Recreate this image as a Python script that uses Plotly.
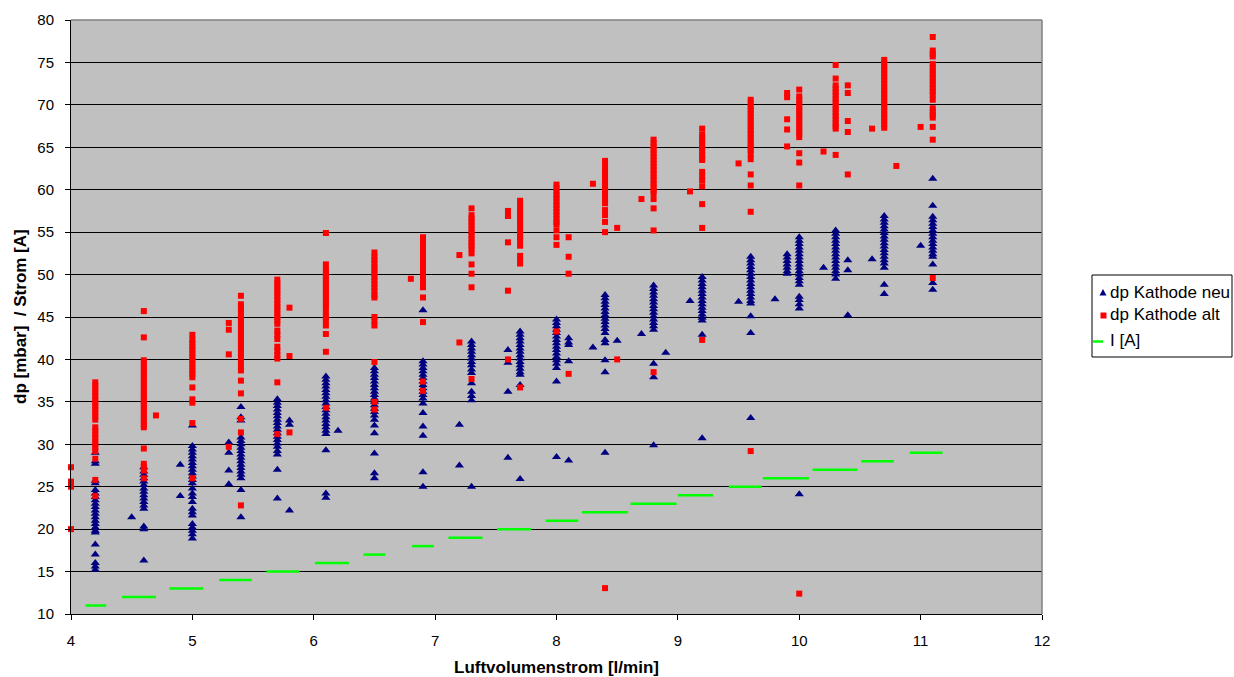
import plotly.graph_objects as go

# ---------------- data ----------------
NEU_X = [4.2, 4.5, 4.6, 4.9, 5.0, 5.3, 5.4, 5.7, 5.8, 6.1, 6.2, 6.5, 6.9, 7.2, 7.3,
         7.6, 7.7, 8.0, 8.1, 8.3, 8.4, 8.5, 8.7, 8.8, 8.9, 9.1, 9.2, 9.5, 9.6, 9.8,
         9.9, 10.0, 10.2, 10.3, 10.4, 10.6, 10.7, 11.0, 11.1]
NEU_Y = [
    [29.0, 28.0, 27.7, 25.7, 25.4, 24.6, 24.2, 23.8, 23.4, 23.0, 22.6, 22.2, 21.8, 21.4, 21.0,
     20.6, 20.2, 19.8, 19.6, 18.2, 17.0, 16.0, 15.6, 15.2],
    [21.4],
    [27.3, 26.8, 26.4, 26.0, 25.6, 25.2, 24.8, 24.4, 24.0, 23.6, 23.2, 22.8, 22.4, 20.3, 20.0, 16.3],
    [27.6, 23.9],
    [32.2, 29.8, 29.4, 29.0, 28.6, 28.2, 27.8, 27.4, 27.0, 26.6, 26.2, 25.8, 25.4, 24.8, 24.2,
     23.8, 23.2, 22.4, 22.0, 21.6, 20.6, 20.2, 19.8, 19.4, 18.9],
    [30.2, 29.0, 26.9, 25.3],
    [34.4, 33.2, 32.8, 30.8, 30.4, 30.0, 29.6, 29.2, 28.8, 28.4, 28.0, 27.6, 27.2, 26.8, 26.4,
     26.0, 24.6, 21.4],
    [35.3, 34.9, 34.5, 34.1, 33.7, 33.3, 32.9, 32.5, 32.1, 31.7, 31.3, 30.9, 30.5, 30.1, 29.7,
     29.2, 28.8, 27.0, 23.6],
    [32.8, 32.3, 22.2],
    [38.0, 37.6, 37.2, 36.8, 36.4, 36.0, 35.6, 35.2, 34.8, 34.4, 34.0, 33.6, 33.2, 32.8, 32.4,
     32.0, 31.6, 31.2, 29.3, 24.2, 23.7],
    [31.6],
    [39.0, 38.6, 38.2, 37.8, 37.4, 37.0, 36.6, 36.2, 35.8, 35.4, 35.0, 34.6, 34.2, 33.8, 33.4,
     32.9, 32.2, 31.3, 28.9, 26.6, 26.0],
    [45.8, 39.8, 39.4, 39.0, 38.6, 38.2, 37.8, 37.4, 37.0, 36.6, 36.2, 35.8, 35.4, 34.8, 33.7,
     32.1, 31.0, 26.7, 25.0],
    [32.3, 27.5],
    [42.1, 41.7, 41.3, 40.9, 40.5, 40.1, 39.7, 39.3, 38.8, 38.4, 37.2, 36.2, 35.7, 35.2, 25.0],
    [41.1, 39.6, 36.2, 28.4],
    [43.3, 42.9, 42.5, 42.1, 41.7, 41.3, 40.9, 40.5, 40.1, 39.7, 39.3, 38.9, 38.5, 38.2, 37.0, 25.9],
    [44.7, 44.3, 43.9, 43.5, 43.1, 42.7, 42.3, 41.9, 41.5, 41.1, 40.7, 40.3, 39.9, 39.5, 39.0,
     37.4, 28.5],
    [42.5, 42.0, 41.7, 39.8, 28.1],
    [41.4],
    [47.6, 47.2, 46.8, 46.4, 46.0, 45.6, 45.2, 44.8, 44.4, 44.0, 43.6, 43.1, 42.3, 41.9, 39.9,
     38.5, 29.0],
    [42.2],
    [43.0],
    [48.7, 48.3, 47.9, 47.5, 47.1, 46.7, 46.3, 45.9, 45.5, 45.1, 44.7, 44.3, 43.9, 43.5, 39.5,
     37.9, 29.9],
    [40.8],
    [46.9],
    [49.7, 49.3, 48.9, 48.5, 48.1, 47.7, 47.3, 46.9, 46.5, 46.1, 45.7, 45.3, 44.9, 44.6, 42.9, 30.7],
    [46.8],
    [52.1, 51.7, 51.3, 50.9, 50.5, 50.1, 49.7, 49.3, 48.9, 48.5, 48.1, 47.7, 47.3, 46.9, 46.6,
     45.1, 43.1, 33.1],
    [47.1],
    [52.4, 52.0, 51.6, 51.2, 50.8, 50.4, 50.1],
    [54.4, 54.0, 53.6, 53.2, 52.8, 52.4, 52.0, 51.6, 51.2, 50.8, 50.4, 50.0, 49.6, 49.2, 48.8,
     47.4, 47.0, 46.5, 46.0, 24.1],
    [50.8],
    [55.2, 54.8, 54.4, 54.0, 53.6, 53.2, 52.8, 52.4, 52.0, 51.6, 51.2, 50.8, 50.4, 50.0, 49.5],
    [51.7, 50.5, 45.2],
    [51.8],
    [56.9, 56.5, 56.1, 55.7, 55.3, 54.9, 54.5, 54.1, 53.7, 53.3, 52.9, 52.5, 52.1, 51.7, 51.3,
     50.8, 48.8, 47.7],
    [53.4],
    [61.3, 58.1, 56.8, 56.4, 56.0, 55.6, 55.2, 54.8, 54.4, 54.0, 53.6, 53.2, 52.8, 52.4, 52.1,
     51.2, 49.0, 48.2],
]

ALT_X = [4.0, 4.2, 4.6, 4.7, 5.0, 5.3, 5.4, 5.7, 5.8, 6.1, 6.5, 6.8, 6.9, 7.2, 7.3, 7.6,
         7.7, 8.0, 8.1, 8.3, 8.4, 8.5, 8.7, 8.8, 9.1, 9.2, 9.5, 9.6, 9.9, 10.0, 10.2, 10.3,
         10.4, 10.6, 10.7, 10.8, 11.0, 11.1]
ALT_Y = [
    [27.3, 25.6, 25.2, 25.0, 20.0],
    [37.3, 36.9, 36.5, 36.1, 35.7, 35.3, 34.9, 34.5, 34.1, 33.7, 33.3, 32.9, 32.0, 31.6, 31.2,
     30.8, 30.4, 30.0, 29.6, 29.2, 28.3, 25.8, 23.9],
    [45.7, 42.6, 39.9, 39.5, 39.1, 38.7, 38.3, 37.9, 37.5, 37.1, 36.7, 36.3, 35.9, 35.5, 35.1,
     34.7, 34.3, 33.9, 33.5, 33.1, 32.7, 32.3, 32.0, 29.5, 27.7, 27.3, 26.9, 26.0],
    [33.4],
    [42.9, 42.3, 41.9, 41.5, 41.1, 40.7, 40.3, 39.9, 39.5, 39.1, 38.7, 38.3, 37.9, 36.7, 35.3,
     34.9, 32.5, 26.0],
    [44.3, 43.5, 40.6, 29.7],
    [47.5, 46.5, 46.1, 45.8, 45.2, 44.8, 44.4, 44.0, 43.6, 43.2, 42.8, 42.4, 42.0, 41.6, 41.2,
     40.8, 40.3, 39.7, 39.2, 38.7, 37.5, 36.0, 33.0, 31.4, 22.8],
    [49.4, 49.0, 48.6, 48.2, 47.8, 47.4, 47.0, 46.6, 46.2, 45.8, 45.4, 45.0, 44.6, 44.2, 43.4,
     42.9, 42.4, 41.5, 41.0, 40.5, 40.1, 37.3, 31.2],
    [46.1, 40.4, 31.4],
    [54.9, 51.2, 50.6, 50.2, 49.8, 49.4, 49.0, 48.6, 48.2, 47.8, 47.4, 47.0, 46.6, 46.2, 45.6,
     45.0, 44.5, 44.0, 43.0, 40.9, 34.3],
    [52.6, 52.1, 51.7, 51.3, 50.9, 50.5, 50.1, 49.7, 49.3, 48.9, 48.5, 48.1, 47.6, 47.3, 45.0,
     44.5, 44.0, 39.7, 35.0, 34.1],
    [49.5],
    [54.4, 54.0, 53.6, 53.2, 52.8, 52.4, 52.0, 51.6, 51.2, 50.8, 50.4, 50.0, 49.6, 49.2, 48.8,
     48.5, 47.3, 44.4, 37.4, 36.3],
    [52.3, 42.0],
    [57.8, 57.0, 56.6, 56.2, 55.8, 55.4, 55.0, 54.6, 54.2, 53.8, 53.4, 53.0, 52.5, 51.2, 50.1,
     48.5, 37.7],
    [57.5, 56.9, 53.8, 48.1, 40.0],
    [58.7, 58.3, 57.9, 57.5, 57.1, 56.7, 56.3, 55.9, 55.5, 55.1, 54.7, 54.3, 54.0, 53.4, 52.2,
     51.8, 51.3, 36.7],
    [60.6, 60.2, 59.8, 59.4, 59.0, 58.6, 58.2, 57.8, 57.4, 57.0, 56.6, 56.2, 55.9, 55.2, 54.4,
     53.5, 43.3],
    [54.4, 52.1, 50.1, 38.3],
    [60.7],
    [63.4, 62.8, 62.4, 62.0, 61.6, 61.2, 60.8, 60.4, 60.0, 59.6, 59.2, 58.8, 58.4, 57.6, 57.0,
     56.2, 55.0, 13.05],
    [55.5, 40.0],
    [58.9],
    [65.9, 65.5, 65.1, 64.7, 64.3, 63.9, 63.5, 63.1, 62.7, 62.3, 61.9, 61.5, 61.1, 60.7, 60.3,
     59.9, 59.6, 58.9, 57.8, 55.2, 38.5],
    [59.8],
    [67.2, 66.5, 66.1, 65.7, 65.3, 64.9, 64.5, 64.1, 63.7, 63.5, 62.1, 61.6, 61.1, 60.4, 58.3,
     55.5, 42.3],
    [63.1],
    [70.6, 70.2, 69.8, 69.4, 69.0, 68.6, 68.2, 67.8, 67.4, 67.0, 66.6, 66.2, 65.8, 65.4, 65.0,
     64.7, 64.2, 63.6, 61.8, 60.5, 57.4, 29.2],
    [71.4, 70.9, 68.3, 67.1, 65.1],
    [71.8, 71.0, 70.6, 70.2, 69.8, 69.4, 69.0, 68.6, 68.2, 67.8, 67.4, 67.0, 66.6, 66.2, 64.3,
     63.2, 60.5, 12.4],
    [64.5],
    [74.7, 73.1, 72.3, 71.9, 71.5, 71.1, 70.7, 70.3, 69.9, 69.5, 69.1, 68.7, 68.3, 67.9, 67.5,
     67.2, 64.1],
    [72.3, 71.4, 68.1, 66.8, 61.8],
    [67.2],
    [75.3, 74.9, 74.5, 74.1, 73.7, 73.3, 72.9, 72.5, 72.1, 71.7, 71.3, 70.9, 70.5, 70.1, 69.7,
     69.3, 68.9, 68.5, 68.1, 67.7, 67.3],
    [62.8],
    [67.4],
    [78.0, 76.4, 76.0, 75.7, 74.8, 74.4, 74.0, 73.6, 73.2, 72.8, 72.4, 72.0, 71.6, 71.2, 70.6,
     69.6, 69.2, 68.8, 68.5, 67.4, 65.9, 49.6],
]

I_LEVEL = [11, 12, 13, 14, 15, 16, 17, 18, 19, 20, 21, 22, 23, 24, 25, 26, 27, 28, 29]
I_X_START = [4.12, 4.42, 4.81, 5.22, 5.61, 6.01, 6.41, 6.81, 7.11, 7.51, 7.91, 8.21, 8.61,
             9.00, 9.42, 9.70, 10.11, 10.51, 10.91]
I_X_END = [4.29, 4.70, 5.09, 5.49, 5.88, 6.29, 6.59, 6.99, 7.39, 7.79, 8.18, 8.59, 8.99,
           9.29, 9.69, 10.08, 10.48, 10.78, 11.18]

X_TICKS = [4, 5, 6, 7, 8, 9, 10, 11, 12]
Y_TICKS = [10, 15, 20, 25, 30, 35, 40, 45, 50, 55, 60, 65, 70, 75, 80]

SERIES_NAMES = ["dp Kathode neu", "dp Kathode alt", "I [A]"]
X_TITLE = "Luftvolumenstrom [l/min]"
Y_TITLE = "dp [mbar] &nbsp;/ Strom [A]"


def flatten(xs, ys):
    fx, fy = [], []
    for x, col in zip(xs, ys):
        for v in col:
            fx.append(x)
            fy.append(v)
    return fx, fy


neu_x, neu_y = flatten(NEU_X, NEU_Y)
alt_x, alt_y = flatten(ALT_X, ALT_Y)

ix, iy = [], []
for x0, x1, lv in zip(I_X_START, I_X_END, I_LEVEL):
    ix += [x0, x1, None]
    iy += [lv, lv, None]

FONT = "Arial, 'Liberation Sans', sans-serif"
BLUE, RED, GREEN = "#000080", "#FF0000", "#00FF00"

# plot area in pixels (figure is 1234 x 677)
PL, PR, PT, PB = 71, 1042, 20, 614


def px(xpix):
    return (xpix - PL) / (PR - PL)


def py(ypix):
    return (PB - ypix) / (PB - PT)


fig = go.Figure()
fig.add_trace(go.Scatter(
    x=neu_x, y=neu_y, mode="markers", name=SERIES_NAMES[0], showlegend=False,
    marker=dict(symbol="triangle-up", size=8, color=BLUE, line=dict(width=0)),
    cliponaxis=False))
fig.add_trace(go.Scatter(
    x=alt_x, y=alt_y, mode="markers", name=SERIES_NAMES[1], showlegend=False,
    marker=dict(symbol="square", size=6, color=RED, line=dict(width=0)),
    cliponaxis=False))
fig.add_trace(go.Scatter(
    x=ix, y=iy, mode="lines", name=SERIES_NAMES[2], showlegend=False,
    line=dict(color=GREEN, width=2.5), connectgaps=False))

# legend drawn by hand (Excel-style compact legend)
tri_cx, tri_cy = 1103, 292.5
sq_cx, sq_cy = 1103.5, 315.5
shapes = [
    dict(type="line", xref="paper", yref="paper", x0=0, x1=1, y0=1, y1=1,
         line=dict(color="#808080", width=1.5)),
    dict(type="line", xref="paper", yref="paper", x0=1, x1=1, y0=0, y1=1,
         line=dict(color="#808080", width=1.5)),
    dict(type="rect", xref="paper", yref="paper", x0=px(1092), x1=px(1232),
         y0=py(357), y1=py(275), line=dict(color="black", width=1), fillcolor="white"),
    dict(type="path", xref="paper", yref="paper",
         path=(f"M {px(tri_cx - 3.5)},{py(tri_cy + 3)} L {px(tri_cx + 3.5)},{py(tri_cy + 3)} "
               f"L {px(tri_cx)},{py(tri_cy - 3.5)} Z"),
         fillcolor=BLUE, line=dict(width=0)),
    dict(type="rect", xref="paper", yref="paper", x0=px(sq_cx - 3), x1=px(sq_cx + 3),
         y0=py(sq_cy + 3), y1=py(sq_cy - 3), fillcolor=RED, line=dict(width=0)),
    dict(type="line", xref="paper", yref="paper", x0=px(1093), x1=px(1103),
         y0=py(341.5), y1=py(341.5), line=dict(color=GREEN, width=2.5)),
]
legend_text_y = [292, 314, 340]
annotations = [
    dict(text=f"<b>{X_TITLE}</b>", xref="paper", yref="paper",
         x=0.5, y=0, yshift=-53, xanchor="center", yanchor="middle",
         showarrow=False, font=dict(family=FONT, size=17, color="black")),
    dict(text=f"<b>{Y_TITLE}</b>", xref="paper", yref="paper",
         x=0, y=0.5, xshift=-51, xanchor="center", yanchor="middle", textangle=-90,
         showarrow=False, font=dict(family=FONT, size=17, color="black")),
]
for name, ty in zip(SERIES_NAMES, legend_text_y):
    annotations.append(dict(
        text=name, xref="paper", yref="paper", x=px(1107.5), y=py(ty),
        xanchor="left", yanchor="middle", showarrow=False,
        font=dict(family=FONT, size=17, color="black")))

fig.update_layout(
    width=1234, height=677,
    margin=dict(l=PL, r=1234 - PR, t=PT, b=677 - PB, autoexpand=False),
    paper_bgcolor="white", plot_bgcolor="#C0C0C0",
    font=dict(family=FONT, size=15, color="black"),
    showlegend=False,
    xaxis=dict(
        range=[4, 12], tickvals=X_TICKS, ticktext=[str(t) for t in X_TICKS],
        showgrid=False, zeroline=False,
        showline=True, linecolor="black", linewidth=1,
        ticks="outside", ticklen=5, tickcolor="black", tickwidth=1,
        ticklabelstandoff=8,
        tickfont=dict(family=FONT, size=15, color="black")),
    yaxis=dict(
        range=[10, 80], tickvals=Y_TICKS, ticktext=[str(t) for t in Y_TICKS],
        showgrid=True, gridcolor="black", gridwidth=1, zeroline=False,
        showline=True, linecolor="black", linewidth=1,
        ticks="outside", ticklen=5, tickcolor="black", tickwidth=1,
        ticklabelstandoff=8,
        tickfont=dict(family=FONT, size=15, color="black")),
    shapes=shapes,
    annotations=annotations,
)

fig.write_html("out.html", config={"displayModeBar": False},
               post_script="document.body.style.margin='0px';")
